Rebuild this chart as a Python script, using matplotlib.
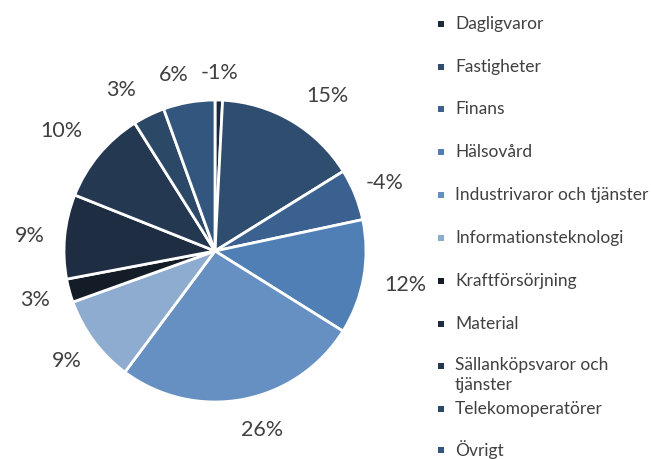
import numpy as np
import matplotlib
matplotlib.use("Agg")
import matplotlib.pyplot as plt
from matplotlib.patches import Rectangle

categories = ["Dagligvaror", "Fastigheter", "Finans", "Hälsovård",
              "Industrivaror och tjänster", "Informationsteknologi",
              "Kraftförsörjning", "Material", "Sällanköpsvaror och\ntjänster",
              "Telekomoperatörer", "Övrigt"]
# slice weights (share of pie, %)
weights = [0.8, 15.3, 5.5, 12.2, 26.2, 9.3, 2.5, 9.0, 10.0, 3.4, 5.5]
# shown data labels
value_labels = ["-1%", "15%", "-4%", "12%", "26%", "9%", "3%", "9%", "10%", "3%", "6%"]
colors = ["#1b2a3d", "#2f4e6f", "#3b6190", "#4f7fb5", "#6690c2", "#8eabd0",
          "#141c28", "#1e2d42", "#243852", "#2c4867", "#33567e"]

plt.rcParams['font.family'] = ['Lato', 'DejaVu Sans']
W, H = 651, 459
fig = plt.figure(figsize=(W / 100, H / 100), dpi=100)

cx, cy, R = 215, 251, 151
half = 210
ax = fig.add_axes([(cx - half) / W, (H - cy - half) / H, 2 * half / W, 2 * half / H])

wedges, _ = ax.pie(weights, colors=colors, startangle=90, counterclock=False,
                   radius=1.0, wedgeprops=dict(edgecolor="white", linewidth=2.0))
lim = half / R
ax.set_xlim(-lim, lim)
ax.set_ylim(-lim, lim)
ax.axis("off")

# label placement: radial distance and clockwise angular shift (deg)
label_dist = [1.18, 1.27, 1.21, 1.28, 1.225, 1.22, 1.235, 1.23, 1.29, 1.235, 1.2]
label_shift = [0, 5.5, 0, 0, -4, 0, 0, -1, -1.7, -4.4, -3.2]
for w, lab, d, s in zip(wedges, value_labels, label_dist, label_shift):
    ang = np.deg2rad((w.theta1 + w.theta2) / 2 - s)
    ax.text(d * np.cos(ang), d * np.sin(ang), lab, ha="center", va="center",
            fontsize=15.5, color="#404040")

# legend
row_y = [24, 67, 109, 152, 195, 238, 281, 324, 366, 409, 450]
for name, col, y in zip(categories, colors, row_y):
    fig.patches.append(Rectangle(((441 - 3) / W, (H - y - 3) / H), 6 / W, 6 / H,
                                 transform=fig.transFigure, facecolor=col,
                                 edgecolor="none"))
    if "\n" in name:
        fig.text(455 / W, (H - y + 9) / H, name, ha="left", va="top",
                 fontsize=12.5, color="#404040", linespacing=1.3)
    else:
        fig.text(455 / W, (H - y) / H, name, ha="left", va="center",
                 fontsize=12.5, color="#404040")

fig.savefig("out.png", dpi=100)
